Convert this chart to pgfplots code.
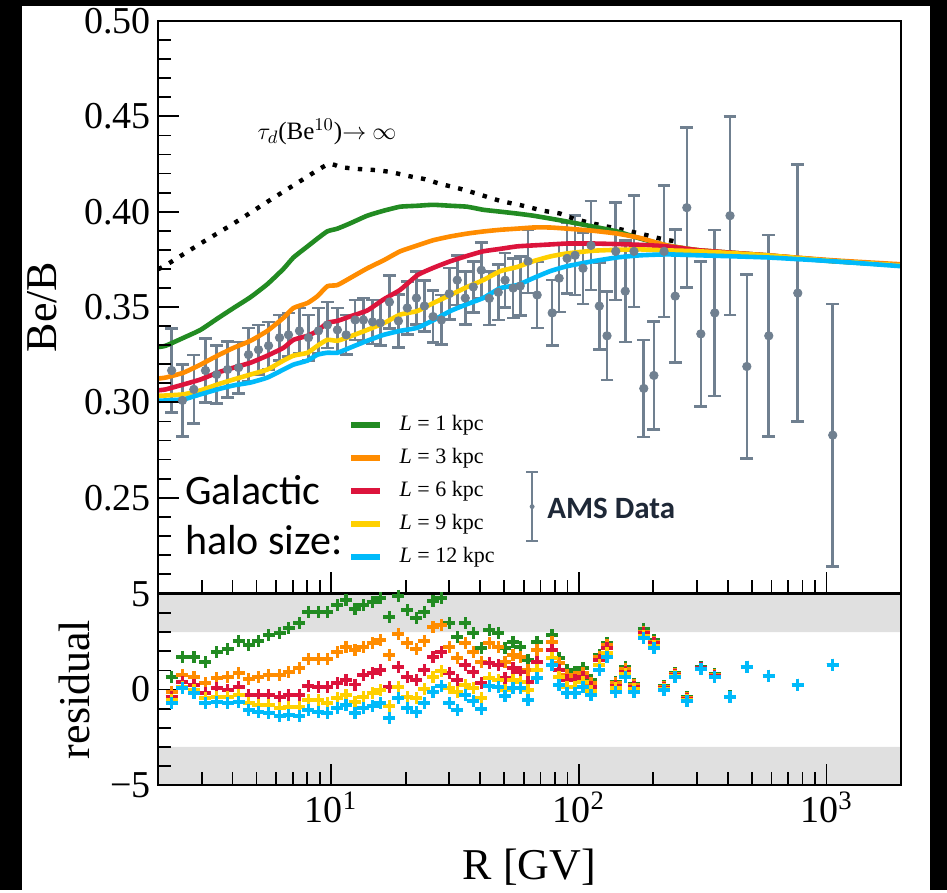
\documentclass[border=0pt]{standalone}
\usepackage{pgfplots}
\pgfplotsset{compat=1.18}
\usepackage{pgfplotstable}
\usepackage{fontspec}
\setmainfont{Liberation Serif}
\newfontfamily\calibri{Carlito}
\definecolor{cgreen}{RGB}{34,139,34}
\definecolor{corange}{RGB}{255,140,0}
\definecolor{cred}{RGB}{220,20,60}
\definecolor{cyellow}{RGB}{255,208,0}
\definecolor{ccyan}{RGB}{0,186,250}
\definecolor{cdata}{RGB}{112,128,144}
\definecolor{band}{RGB}{224,224,224}
\definecolor{amsnavy}{RGB}{30,40,55}

\pgfplotstableread{
R v
2.0 0.3698
2.15 0.3719
2.97 0.3833
4.04 0.3938
5.53 0.4052
7.52 0.4161
9.75 0.4250
10.9 0.4234
12.8 0.4224
14.8 0.4219
17.4 0.4208
20.3 0.4188
23.6 0.4172
27.6 0.4146
33.2 0.4120
38.9 0.4094
48.1 0.4057
59.6 0.4031
71.8 0.4005
84.1 0.3990
94.9 0.3964
114 0.3938
143 0.3911
177 0.3885
213 0.3859
260 0.3838
}\tauinf

\pgfplotstableread{
R g o r y c
2.0 0.3290 0.3125 0.3063 0.3034 0.3008
2.15 0.3297 0.3130 0.3068 0.3036 0.3010
2.54 0.3339 0.3156 0.3094 0.3042 0.3016
2.97 0.3380 0.3198 0.3120 0.3063 0.3042
3.48 0.3440 0.3245 0.3156 0.3094 0.3068
4.04 0.3495 0.3286 0.3182 0.3120 0.3089
4.73 0.3552 0.3323 0.3208 0.3146 0.3104
5.53 0.3620 0.3375 0.3245 0.3172 0.3130
6.42 0.3700 0.3443 0.3286 0.3219 0.3172
7.05 0.3760 0.3495 0.3328 0.3245 0.3198
8.03 0.3818 0.3521 0.3349 0.3260 0.3219
8.81 0.3859 0.3557 0.3375 0.3297 0.3250
9.66 0.3897 0.3609 0.3417 0.3328 0.3260
10.6 0.3911 0.3615 0.3427 0.3323 0.3260
11.9 0.3938 0.3651 0.3450 0.3345 0.3286
14.0 0.3979 0.3703 0.3482 0.3380 0.3323
16.3 0.4005 0.3745 0.3540 0.3415 0.3354
19.0 0.4026 0.3792 0.3590 0.3460 0.3375
22.3 0.4031 0.3823 0.3667 0.3479 0.3391
25.8 0.4036 0.3850 0.3705 0.3520 0.3430
30.3 0.4031 0.3870 0.3740 0.3563 0.3479
35.4 0.4026 0.3885 0.3768 0.3605 0.3515
41.1 0.4010 0.3896 0.3792 0.3641 0.3547
48.2 0.4000 0.3905 0.3805 0.3688 0.3599
56.4 0.3990 0.3911 0.3818 0.3710 0.3615
65.4 0.3979 0.3917 0.3823 0.3740 0.3651
76.6 0.3964 0.3917 0.3828 0.3765 0.3688
89.7 0.3948 0.3911 0.3833 0.3781 0.3714
114 0.3922 0.3900 0.3833 0.3795 0.3740
143 0.3896 0.3885 0.3830 0.3800 0.3760
177 0.3859 0.3862 0.3826 0.3802 0.3771
227 0.3823 0.3823 0.3818 0.3797 0.3776
308 0.3797 0.3797 0.3797 0.3792 0.3771
574 0.3771 0.3771 0.3771 0.3771 0.3760
1060 0.3740 0.3745 0.3742 0.3742 0.3740
2000 0.3719 0.3724 0.3719 0.3719 0.3714
}\models

\pgfplotstableread{
R v e
2.27 0.3167 0.0219
2.51 0.3010 0.0188
2.79 0.3068 0.0180
3.11 0.3167 0.0167
3.45 0.3146 0.0151
3.82 0.3172 0.0146
4.23 0.3182 0.0135
4.64 0.3250 0.0140
5.09 0.3276 0.0130
5.59 0.3297 0.0125
6.19 0.3339 0.0120
6.73 0.3354 0.0115
7.45 0.3375 0.0120
8.10 0.3339 0.0120
8.89 0.3375 0.0120
9.66 0.3406 0.0120
10.6 0.3380 0.0115
11.5 0.3354 0.0104
12.5 0.3432 0.0104
13.5 0.3432 0.0115
14.7 0.3422 0.0115
15.8 0.3417 0.0120
17.2 0.3526 0.0140
18.7 0.3427 0.0140
20.3 0.3495 0.0140
22.1 0.3547 0.0140
23.8 0.3505 0.0135
25.8 0.3450 0.0135
27.9 0.3432 0.0130
30.0 0.3570 0.0135
32.3 0.3641 0.0130
34.8 0.3547 0.0140
37.5 0.3605 0.0135
40.4 0.3693 0.0145
43.5 0.3545 0.0140
47.3 0.3577 0.0145
50.4 0.3641 0.0143
54.3 0.3599 0.0156
58.0 0.3610 0.0155
62.4 0.3740 0.0167
67.9 0.3563 0.0174
78.1 0.3469 0.0172
83.3 0.3651 0.0177
89.7 0.3755 0.0185
96.6 0.3771 0.0208
104 0.3703 0.0188
112 0.3823 0.0234
121 0.3505 0.0227
130 0.3349 0.0232
141 0.3792 0.0255
154 0.3583 0.0266
167 0.3792 0.0292
183 0.3073 0.0255
201 0.3141 0.0284
221 0.3792 0.0344
245 0.3557 0.0349
273 0.4021 0.0419
311 0.3359 0.0380
354 0.3469 0.0435
408 0.3979 0.0521
477 0.3188 0.0482
585 0.3349 0.0529
766 0.3573 0.0674
1060 0.2828 0.0688
}\ams

\pgfplotstableread{
R g o r y c
2.27 0.65 -0.13 -0.39 -0.55 -0.71
2.51 1.70 0.76 0.39 0.13 0.08
2.79 1.70 0.65 0.24 -0.03 -0.18
3.11 1.44 0.34 -0.18 -0.45 -0.71
3.45 1.96 0.60 0.08 -0.39 -0.66
3.82 2.12 0.65 -0.03 -0.39 -0.71
4.23 2.54 0.86 0.13 -0.29 -0.66
4.64 2.33 0.55 -0.29 -0.71 -1.07
5.09 2.54 0.65 -0.29 -0.81 -1.18
5.59 2.85 0.76 -0.29 -0.81 -1.23
6.19 2.96 0.76 -0.39 -0.97 -1.39
6.73 3.22 0.92 -0.29 -0.92 -1.34
7.45 3.48 1.12 -0.29 -0.92 -1.39
8.10 4.06 1.60 0.18 -0.55 -1.07
8.89 4.06 1.60 0.13 -0.55 -1.18
9.66 4.06 1.60 0.13 -0.71 -1.23
10.6 4.42 1.96 0.34 -0.45 -0.97
11.5 4.69 2.23 0.50 -0.29 -0.81
12.5 4.21 2.07 0.25 -0.66 -1.23
13.5 4.42 2.23 0.76 -0.39 -0.97
14.7 4.58 2.43 0.86 -0.18 -0.86
15.8 4.79 2.59 1.02 -0.03 -0.71
17.2 3.80 1.81 0.13 -0.86 -1.49
18.7 4.90 2.91 1.18 0.13 -0.45
20.3 4.16 2.43 0.65 -0.39 -0.97
22.1 3.74 2.12 0.50 -0.45 -1.18
23.8 4.06 2.54 1.02 0.03 -0.71
25.8 4.63 3.27 1.70 0.65 -0.13
27.9 4.79 3.38 1.96 0.97 0.18
30.0 3.48 2.23 0.86 0.08 -0.71
32.3 2.75 1.65 0.50 -0.13 -1.07
34.8 3.48 2.43 1.28 0.24 -0.29
37.5 2.96 1.96 0.92 0.08 -0.60
40.4 2.17 1.44 0.34 -0.45 -1.02
43.5 3.12 2.43 1.39 0.60 0.18
47.3 2.96 2.23 1.28 0.50 0.13
50.4 2.17 1.44 0.60 -0.03 -0.34
54.3 2.49 1.81 1.12 0.50 0.08
58.0 2.23 1.70 0.92 0.39 0.08
62.4 1.54 1.02 0.39 -0.03 -0.55
67.9 2.49 2.07 1.44 1.02 0.60
78.1 2.85 2.49 2.07 1.65 1.28
83.3 1.65 1.39 1.02 0.65 0.24
89.7 1.02 0.76 0.50 0.13 -0.18
96.6 0.92 0.65 0.50 0.13 -0.18
104 1.12 0.86 0.65 0.39 0.13
112 0.50 0.34 0.13 -0.08 -0.29
121 1.81 1.70 1.54 1.28 1.02
130 2.43 2.33 2.17 1.91 1.70
141 0.39 0.34 0.18 0.08 -0.13
154 1.18 1.07 0.92 0.81 0.65
167 0.29 0.24 0.13 0.03 -0.13
183 3.17 3.01 2.96 2.80 2.70
201 2.59 2.49 2.43 2.28 2.17
221 0.18 0.13 0.08 0.03 -0.03
245 0.86 0.81 0.76 0.71 0.65
273 -0.39 -0.45 -0.50 -0.55 -0.60
311 1.18 1.15 1.12 1.10 1.07
354 0.81 0.76 0.72 0.68 0.65
408 -0.36 -0.37 -0.38 -0.39 -0.39
477 1.20 1.19 1.19 1.18 1.18
585 0.72 0.72 0.71 0.71 0.71
766 0.25 0.25 0.24 0.24 0.24
1060 1.30 1.29 1.29 1.28 1.28
}\resid

\pgfplotsset{
  panel/.style={
    scale only axis, width=371.5pt,
    xmin=2, xmax=2000,
    axis on top,
    tick align=inside, xtick pos=left, ytick pos=left,
    axis line style={line width=1.2pt},
    major tick length=10.5pt, minor tick length=6.5pt,
    every tick/.style={black, line width=0.9pt},
    xtick={10,100,1000},
    minor xtick={2,3,4,5,6,7,8,9,20,30,40,50,60,70,80,90,200,300,400,500,600,700,800,900,2000},
    tick label style={font=\fontsize{19}{22}\selectfont},
    label style={font=\fontsize{22}{26}\selectfont},
  },
  curve/.style={line width=2.3pt, no marks, smooth, tension=0.3},
  cross/.style={only marks, mark=+, mark size=3pt, line width=1.7pt},
}

\begin{document}
\begin{tikzpicture}
\fill[black] (0,0) rectangle (473.5pt,445pt);
\fill[white] (11pt,0) rectangle (465pt,442pt);

\begin{semilogxaxis}[panel,
  at={(79pt,148.5pt)}, anchor=south west, height=286pt,
  ymin=0.2, ymax=0.5,
  ytick={0.25,0.3,0.35,0.4,0.45,0.5},
  minor ytick={0.21,0.22,0.23,0.24,0.26,0.27,0.28,0.29,0.31,0.32,0.33,0.34,0.36,0.37,0.38,0.39,0.41,0.42,0.43,0.44,0.46,0.47,0.48,0.49},
  yticklabel style={/pgf/number format/.cd, fixed, fixed zerofill, precision=2, assume math mode=true},
  xticklabels={},
  ylabel={Be/B},
  ylabel style={at={(axis description cs:-0.156,0.5)}, anchor=center},
  legend style={at={(axis description cs:0.2557,0.316)}, anchor=north west, draw=none, fill=none, inner sep=0pt,
    row sep=4pt, font=\fontsize{11}{13}\selectfont,
    nodes={inner sep=1pt, text height=8pt, text depth=2.5pt}},
  legend cell align=left,
  legend image code/.code={\draw[#1, line width=3pt] (0pt,0pt) -- (14.5pt,0pt); \path (22pt,0pt);},
]
\addplot[cdata, only marks, mark=*, mark size=2.1pt, forget plot,
  error bars/.cd, y dir=both, y explicit,
  error bar style={line width=1.3pt, cdata},
  error mark options={rotate=90, mark size=3.2pt, line width=1.3pt, cdata}]
  table[x=R, y=v, y error=e]{\ams};
\addplot[cdata, only marks, mark=*, mark size=1pt, forget plot,
  error bars/.cd, y dir=both, y explicit,
  error bar style={line width=1.1pt, cdata},
  error mark options={rotate=90, mark size=3pt, line width=1.1pt, cdata}]
  coordinates {(64.8,0.2453) +- (0,0.0182)};
\addplot[black, line width=2.2pt, dash pattern=on 2.2pt off 4.2pt, forget plot, smooth, tension=0.3] table[x=R, y=v]{\tauinf};
\addplot[curve, cgreen] table[x=R, y=g]{\models};
\addlegendentry{\textit{L} = 1 kpc}
\addplot[curve, corange] table[x=R, y=o]{\models};
\addlegendentry{\textit{L} = 3 kpc}
\addplot[curve, cred] table[x=R, y=r]{\models};
\addlegendentry{\textit{L} = 6 kpc}
\addplot[curve, cyellow] table[x=R, y=y]{\models};
\addlegendentry{\textit{L} = 9 kpc}
\addplot[curve, ccyan] table[x=R, y=c]{\models};
\addlegendentry{\textit{L} = 12 kpc}
\node[font=\fontsize{12.5}{15}\selectfont] at (axis description cs:0.2275,0.806) {$\tau_d$(Be$^{10}$)$\rightarrow$ $\infty$};
\node[font=\calibri\fontsize{21}{25}\selectfont, align=left, anchor=west, inner sep=0pt] at (axis description cs:0.036,0.137) {Galactic\\halo size:};
\node[font=\calibri\bfseries\fontsize{15.5}{18}\selectfont, text=amsnavy, anchor=west, inner sep=0pt] at (axis description cs:0.5235,0.1486) {AMS Data};
\end{semilogxaxis}

\begin{semilogxaxis}[panel,
  at={(79pt,52.5pt)}, anchor=south west, height=95.5pt,
  ymin=-5, ymax=5,
  ytick={-5,0,5}, yticklabels={−5,0,5},
  minor ytick={-4,-3,-2,-1,1,2,3,4},
  xticklabels={10\textsuperscript{1},10\textsuperscript{2},10\textsuperscript{3}},
  xlabel={R [GV]},
  xlabel style={at={(axis description cs:0.5,-0.43)}, anchor=center},
  ylabel={residual},
  ylabel style={at={(axis description cs:-0.112,0.5)}, anchor=center},
]
\addplot[fill=band, draw=none, forget plot] coordinates {(2,3) (2000,3) (2000,5) (2,5) (2,3)};
\addplot[fill=band, draw=none, forget plot] coordinates {(2,-5) (2000,-5) (2000,-3) (2,-3) (2,-5)};
\addplot[cross, cgreen] table[x=R, y=g]{\resid};
\addplot[cross, corange] table[x=R, y=o]{\resid};
\addplot[cross, cred] table[x=R, y=r]{\resid};
\addplot[cross, cyellow] table[x=R, y=y]{\resid};
\addplot[cross, ccyan] table[x=R, y=c]{\resid};
\end{semilogxaxis}
\end{tikzpicture}
\end{document}
